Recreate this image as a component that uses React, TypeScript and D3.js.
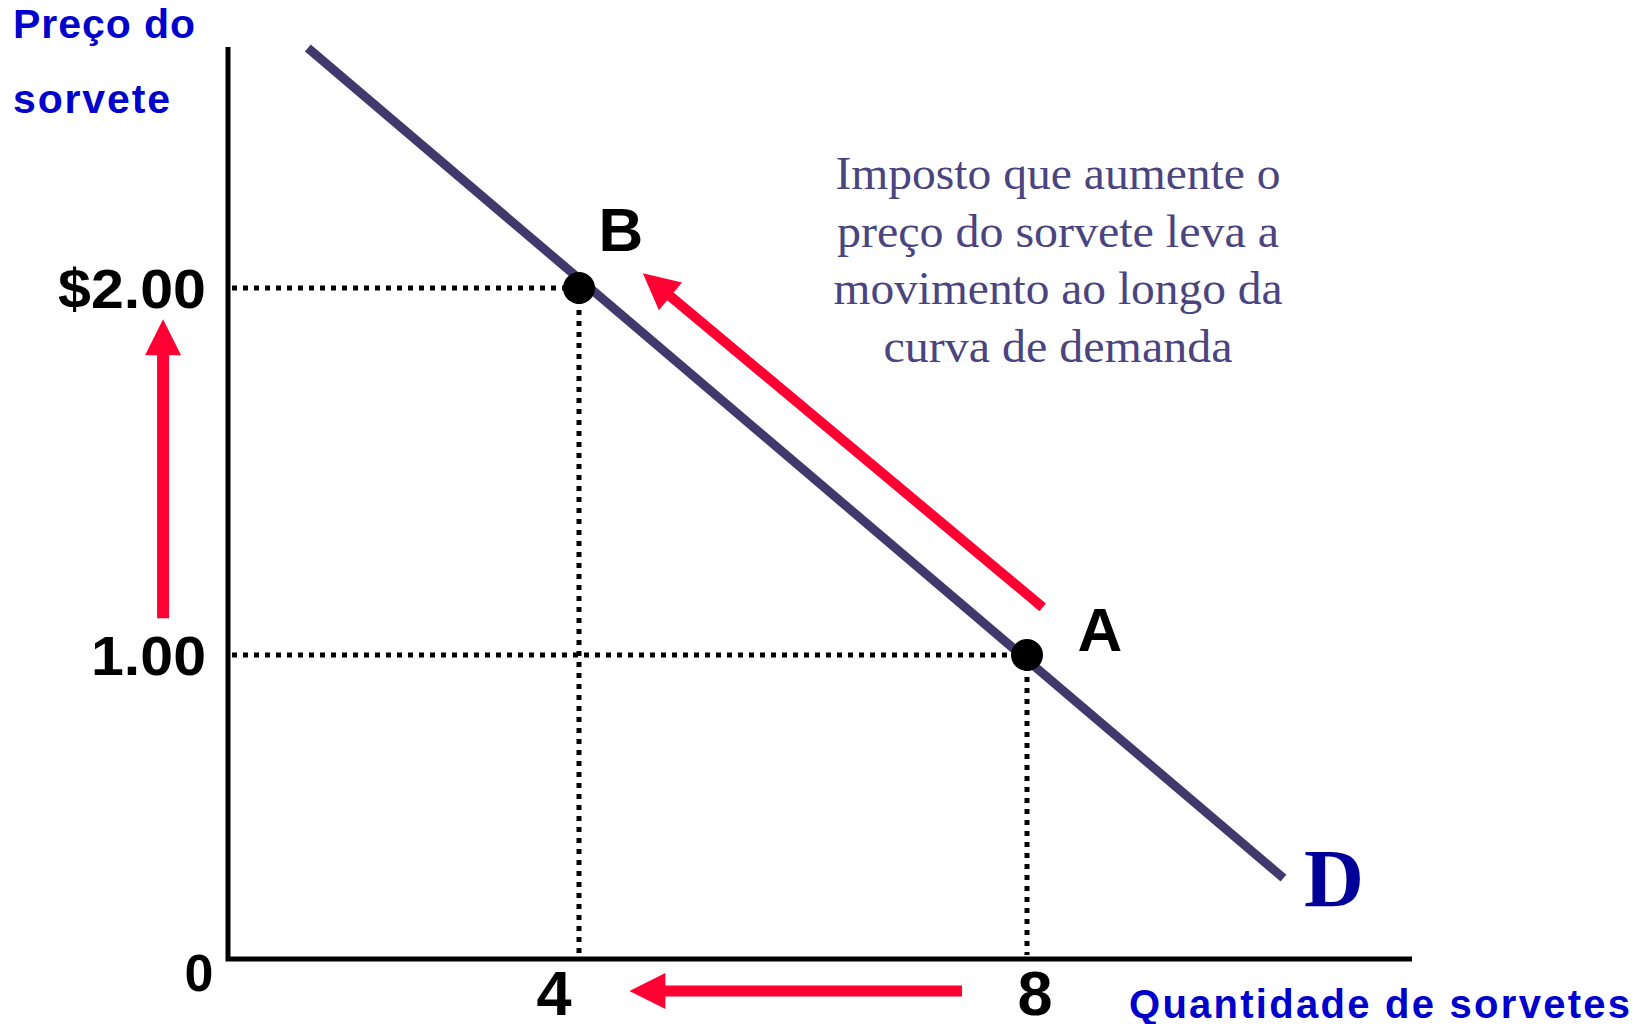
import React from "react";
import * as d3 from "d3";

// ---- data ----
const quantityTickValues = [0, 4, 8];
const quantityTickLabels = ["0", "4", "8"];
const priceTickValues = [1, 2];
const priceTickLabels = ["1.00", "$2.00"];

const pointNames = ["A", "B"];
const pointQuantity = [8, 4];
const pointPrice = [1, 2];

// demand curve end points (quantity, price)
const demandQuantity = [0.91, 10.29];
const demandPrice = [2.654, 0.266];

// annotation arrows (tail -> tip), in data units
const priceArrowQuantity = [-0.74, -0.74];
const priceArrowPrice = [1.1, 1.915];
const quantityArrowQuantity = [7.42, 4.45];
const quantityArrowPrice = [-0.105, -0.105];
const moveArrowQuantity = [8.14, 4.57];
const moveArrowPrice = [1.13, 2.04];

const noteLines = [
  "Imposto que aumente o",
  "preço do sorvete leva a",
  "movimento ao longo da",
  "curva de demanda",
];
const noteWidths = [445, 442, 449, 349];
const yTitleLines = ["Preço do", "sorvete"];
const xTitle = "Quantidade de sorvetes";
const curveLabel = "D";

// ---- layout ----
const W = 1643;
const H = 1024;
const x = d3.scaleLinear().domain([0, 4, 8]).range([228, 579, 1027]);
const y = d3.scaleLinear().domain([0, 1, 2]).range([959, 655, 288]);
const xAxisEnd = 1412;
const yAxisTop = 47;

const RED = "#FF0033";
const SANS = "'Liberation Sans', Arial, sans-serif";
const SERIF = "'Liberation Serif', 'Times New Roman', serif";

function arrowPaths(x1: number, y1: number, x2: number, y2: number, shaft = 11, headLen = 36, headHalf = 18) {
  const dx = x2 - x1, dy = y2 - y1;
  const len = Math.hypot(dx, dy);
  const ux = dx / len, uy = dy / len;
  const px = -uy, py = ux;
  const bx = x2 - ux * headLen, by = y2 - uy * headLen;
  const shaftPath = d3.path();
  shaftPath.moveTo(x1, y1);
  shaftPath.lineTo(bx + ux * 2, by + uy * 2);
  const head = d3.path();
  head.moveTo(x2, y2);
  head.lineTo(bx + px * headHalf, by + py * headHalf);
  head.lineTo(bx - px * headHalf, by - py * headHalf);
  head.closePath();
  return (
    <g>
      <path d={shaftPath.toString()} stroke={RED} strokeWidth={shaft} fill="none" />
      <path d={head.toString()} fill={RED} />
    </g>
  );
}

export default function App() {
  const demandLine = d3
    .line<number>()
    .x((_, i) => x(demandQuantity[i]))
    .y((_, i) => y(demandPrice[i]))(demandQuantity);

  const axisPath = d3.path();
  axisPath.moveTo(x(0), yAxisTop);
  axisPath.lineTo(x(0), y(0));
  axisPath.lineTo(xAxisEnd, y(0));

  return (
    <svg
      width={W}
      height={H}
      viewBox={`0 0 ${W} ${H}`}
      style={{ position: "absolute", left: 0, top: 0, display: "block", background: "#fff" }}
    >
      <rect width={W} height={H} fill="#fff" />

      {/* dotted guide lines */}
      {pointNames.map((n, i) => (
        <g key={"g" + n}>
          <line
            x1={x(0) + 4}
            x2={x(pointQuantity[i])}
            y1={y(pointPrice[i])}
            y2={y(pointPrice[i])}
            stroke="#000"
            strokeWidth={5}
            strokeDasharray="5 6"
          />
          <line
            x1={x(pointQuantity[i])}
            x2={x(pointQuantity[i])}
            y1={y(pointPrice[i])}
            y2={y(0) - 4}
            stroke="#000"
            strokeWidth={5}
            strokeDasharray="5 6"
          />
        </g>
      ))}

      {/* axes */}
      <path d={axisPath.toString()} stroke="#000" strokeWidth={5} fill="none" strokeLinejoin="miter" />

      {/* demand curve */}
      <path d={demandLine || ""} stroke="#41396B" strokeWidth={9} fill="none" />

      {/* points */}
      {pointNames.map((n, i) => (
        <circle key={"c" + n} cx={x(pointQuantity[i])} cy={y(pointPrice[i])} r={16} fill="#000" />
      ))}

      {/* point labels */}
      <text x={x(8) + 73} y={y(1) - 4} fontFamily={SANS} fontWeight="bold" fontSize={62} textAnchor="middle" fill="#000">
        {pointNames[0]}
      </text>
      <text x={x(4) + 42} y={y(2) - 37} fontFamily={SANS} fontWeight="bold" fontSize={62} textAnchor="middle" fill="#000">
        {pointNames[1]}
      </text>

      {/* arrows */}
      {arrowPaths(x(priceArrowQuantity[0]), y(priceArrowPrice[0]), x(priceArrowQuantity[1]), y(priceArrowPrice[1]), 12)}
      {arrowPaths(x(quantityArrowQuantity[0]), y(quantityArrowPrice[0]), x(quantityArrowQuantity[1]), y(quantityArrowPrice[1]), 11)}
      {arrowPaths(x(moveArrowQuantity[0]), y(moveArrowPrice[0]), x(moveArrowQuantity[1]), y(moveArrowPrice[1]), 10)}

      {/* price tick labels */}
      {priceTickValues.map((v, i) => (
        <text
          key={"pt" + v}
          x={206}
          y={y(v) + 20}
          fontFamily={SANS}
          fontWeight="bold"
          fontSize={56}
          textAnchor="end"
          fill="#000"
          textLength={v === 2 ? 148 : 115}
          lengthAdjust="spacingAndGlyphs"
        >
          {priceTickLabels[i]}
        </text>
      ))}

      {/* quantity tick labels */}
      {quantityTickValues.map((v, i) =>
        v === 0 ? (
          <text key={"qt" + v} x={x(v) - 29} y={y(0) + 32} fontFamily={SANS} fontWeight="bold" fontSize={52} textAnchor="middle" fill="#000">
            {quantityTickLabels[i]}
          </text>
        ) : (
          <text
            key={"qt" + v}
            x={x(v) + (v === 4 ? -25 : 8)}
            y={y(0) + 56}
            fontFamily={SANS}
            fontWeight="bold"
            fontSize={63}
            textAnchor="middle"
            fill="#000"
          >
            {quantityTickLabels[i]}
          </text>
        )
      )}

      {/* axis titles */}
      <text x={13} y={38} fontFamily={SANS} fontWeight="bold" fontSize={41} fill="#0000CC" textLength={182} lengthAdjust="spacing">
        {yTitleLines[0]}
      </text>
      <text x={13} y={113} fontFamily={SANS} fontWeight="bold" fontSize={41} fill="#0000CC" textLength={157} lengthAdjust="spacing">
        {yTitleLines[1]}
      </text>
      <text x={1129} y={1018} fontFamily={SANS} fontWeight="bold" fontSize={40} fill="#0000CC" textLength={501} lengthAdjust="spacing">
        {xTitle}
      </text>

      {/* curve label */}
      <text x={1304} y={906} fontFamily={SERIF} fontWeight="bold" fontSize={83} fill="#000099">
        {curveLabel}
      </text>

      {/* note */}
      {noteLines.map((t, i) => (
        <text
          key={"n" + i}
          x={1058}
          y={189 + i * 57.5}
          fontFamily={SERIF}
          fontSize={47}
          fill="#4A447F"
          textAnchor="middle"
          textLength={noteWidths[i]}
          lengthAdjust="spacingAndGlyphs"
        >
          {t}
        </text>
      ))}
    </svg>
  );
}
